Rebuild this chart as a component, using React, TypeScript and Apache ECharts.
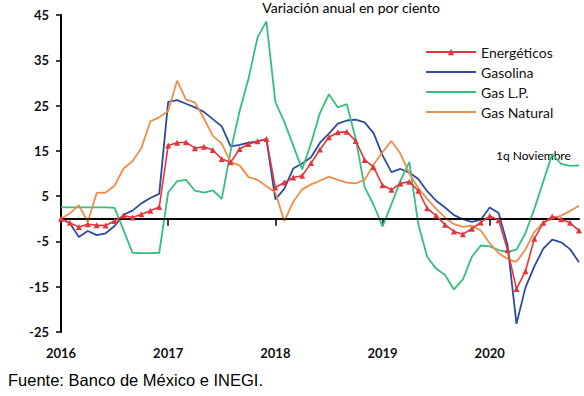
import React, { useEffect, useRef } from "react";
import * as echarts from "echarts";

const years = ["2016", "2017", "2018", "2019", "2020"];
const monthNames = ["Ene", "Feb", "Mar", "Abr", "May", "Jun", "Jul", "Ago", "Sep", "Oct", "Nov", "Dic"];
const lastLabel = "1q Nov 2020";

const categories: string[] = [];
years.forEach((y) =>
  monthNames.forEach((m) => {
    if (categories.length < 58) categories.push(`${m} ${y}`);
  })
);
categories.push(lastLabel);

const energeticos = [
  0, -0.9, -1.8, -1.2, -1.4, -1.5, -0.5, 0.7, 0.3, 1.0, 1.8, 2.6,
  16.2, 16.8, 16.9, 15.6, 15.9, 15.2, 13.2, 12.5, 15.4, 16.5, 17.1, 17.6,
  6.9, 8.0, 9.1, 9.5, 12.3, 15.3, 18.0, 19.1, 19.2, 17.2, 13.0, 11.4,
  7.4, 6.4, 7.8, 8.2, 6.2, 2.3, 0.7, -1.3, -2.8, -3.4, -2.2, -0.8,
  0.6, -0.3, -6.9, -15.5, -11.6, -4.4, -0.9, 0.5, -0.1, -0.9, -2.6,
];

const gasolina = [
  0, -1.0, -4.0, -2.7, -3.6, -3.2, -1.6, 0.9, 1.8, 3.4, 4.6, 5.5,
  25.8, 26.2, 25.4, 24.6, 23.6, 22.0, 20.4, 16.0, 16.3, 16.8, 17.1, 17.6,
  4.3, 6.6, 11.1, 12.2, 13.6, 16.8, 18.8, 21.0, 21.7, 21.9, 21.3, 18.9,
  14.0, 10.3, 11.0, 10.2, 8.8, 6.1, 4.0, 2.5, 0.8, -0.1, -0.7, -0.2,
  2.5, 1.3, -5.8, -23.2, -15.2, -10.5, -6.6, -4.6, -5.2, -6.7, -9.6,
];

const gasLP = [
  2.5, 2.5, 2.5, 2.5, 2.5, 2.5, 2.4, -2.5, -7.5, -7.6, -7.6, -7.5,
  5.8, 8.3, 8.6, 6.2, 5.8, 6.3, 4.4, 15.0, 23.8, 31.0, 40.0, 43.6,
  25.8, 21.4, 16.2, 10.9, 16.7, 23.4, 27.5, 24.6, 25.3, 17.6, 7.0, 3.1,
  -1.7, 3.2, 8.4, 12.5, -1.1, -8.4, -11.0, -12.4, -15.6, -13.4, -8.4, -5.9,
  -6.1, -6.9, -7.3, -6.8, -3.2, 2.2, 8.2, 14.3, 12.1, 11.7, 11.8,
];

const gasNatural = [
  0, 1.2, 3.0, -0.7, 5.7, 5.8, 7.3, 11.1, 12.7, 15.6, 21.5, 22.4,
  23.8, 30.5, 26.3, 25.7, 22.2, 18.3, 16.6, 12.5, 11.8, 9.2, 8.6, 7.2,
  5.8, -0.5, 3.7, 6.5, 7.6, 8.4, 9.3, 8.6, 8.0, 7.8, 8.6, 12.0,
  14.7, 17.2, 14.4, 10.0, 6.8, 4.4, 2.2, 0.3, -1.2, -1.8, -1.5, -2.6,
  -5.4, -7.6, -8.9, -9.5, -6.8, -2.9, -0.9, 0.1, 0.7, 1.7, 2.9,
];

const seriesNames = ["Energéticos", "Gasolina", "Gas L.P.", "Gas Natural"];
const seriesColors = ["#E0363C", "#2E4C9C", "#36BE7F", "#EF8D4B"];
const lineIcon = "path://M0,0H50V2H0Z";

function plainLine(name: string, data: number[], color: string) {
  return {
    name,
    type: "line",
    data,
    symbol: "none",
    showSymbol: false,
    z: 3,
    color,
    lineStyle: { width: 1.8, color },
    itemStyle: { color },
    emphasis: { disabled: true },
  };
}

export default function App() {
  const ref = useRef<HTMLDivElement>(null);

  useEffect(() => {
    if (!ref.current) return;
    const chart = echarts.init(ref.current, undefined, { renderer: "svg" });
    const isYearTick = (i: number) => i % 12 === 0;

    chart.setOption({
      animation: false,
      backgroundColor: "#fff",
      grid: { left: 61, right: 5, top: 15, bottom: 64, containLabel: false },
      legend: {
        orient: "vertical",
        left: 420,
        top: 40,
        itemWidth: 50,
        itemHeight: 8,
        itemGap: 6,
        data: [
          { name: seriesNames[0] },
          { name: seriesNames[1], icon: lineIcon },
          { name: seriesNames[2], icon: lineIcon },
          { name: seriesNames[3], icon: lineIcon },
        ],
        textStyle: { fontSize: 14, fontFamily: "Lato", color: "#111" },
      },
      xAxis: {
        type: "category",
        data: categories,
        boundaryGap: false,
        axisLine: { show: true, lineStyle: { color: "#000", width: 2 } },
        axisTick: {
          show: true,
          interval: (i: number) => isYearTick(i),
          length: 7,
          lineStyle: { color: "#000", width: 1.5 },
        },
        axisLabel: {
          interval: (i: number) => isYearTick(i),
          formatter: (v: string) => v.split(" ")[1],
          margin: 14,
          fontSize: 13,
          fontWeight: "bold",
          color: "#111",
          fontFamily: "Lato",
        },
        splitLine: { show: false },
      },
      yAxis: {
        type: "value",
        min: -25,
        max: 45,
        interval: 10,
        axisLine: { show: true, lineStyle: { color: "#000", width: 2 } },
        axisTick: { show: true, length: 5, lineStyle: { color: "#000", width: 1.5 } },
        axisLabel: { margin: 12, fontSize: 13, fontWeight: "bold", color: "#111", fontFamily: "Lato" },
        splitLine: { show: false },
      },
      series: [
        {
          name: seriesNames[0],
          type: "line",
          data: energeticos,
          symbol: "triangle",
          symbolSize: 6,
          showSymbol: true,
          showAllSymbol: true,
          z: 5,
          color: seriesColors[0],
          lineStyle: { width: 1.6, color: seriesColors[0] },
          itemStyle: { color: seriesColors[0] },
          emphasis: { disabled: true },
          markLine: {
            silent: true,
            symbol: ["none", "none"],
            label: { show: false },
            lineStyle: { color: "#000", width: 1.6, type: "solid" },
            data: [{ yAxis: 0 }],
          },
        },
        plainLine(seriesNames[1], gasolina, seriesColors[1]),
        plainLine(seriesNames[2], gasLP, seriesColors[2]),
        plainLine(seriesNames[3], gasNatural, seriesColors[3]),
      ],
      graphic: [
        {
          type: "text",
          x: 440,
          y: 0,
          style: {
            text: "Variación anual en por ciento",
            fontSize: 14,
            fontFamily: "Lato",
            fill: "#000",
            align: "right",
            verticalAlign: "top",
          },
        },
        {
          type: "text",
          x: 496,
          y: 149,
          style: { text: "1q Noviembre", fontSize: 12, fontFamily: "Lato", fill: "#000" },
        },
        {
          type: "text",
          x: 8,
          y: 371,
          style: {
            text: "Fuente: Banco de México e INEGI.",
            fontSize: 16.5,
            fontFamily: "Liberation Sans",
            fill: "#000",
          },
        },
      ],
    });
    return () => chart.dispose();
  }, []);

  return <div ref={ref} style={{ position: "absolute", left: 0, top: 0, width: 584, height: 396 }} />;
}
